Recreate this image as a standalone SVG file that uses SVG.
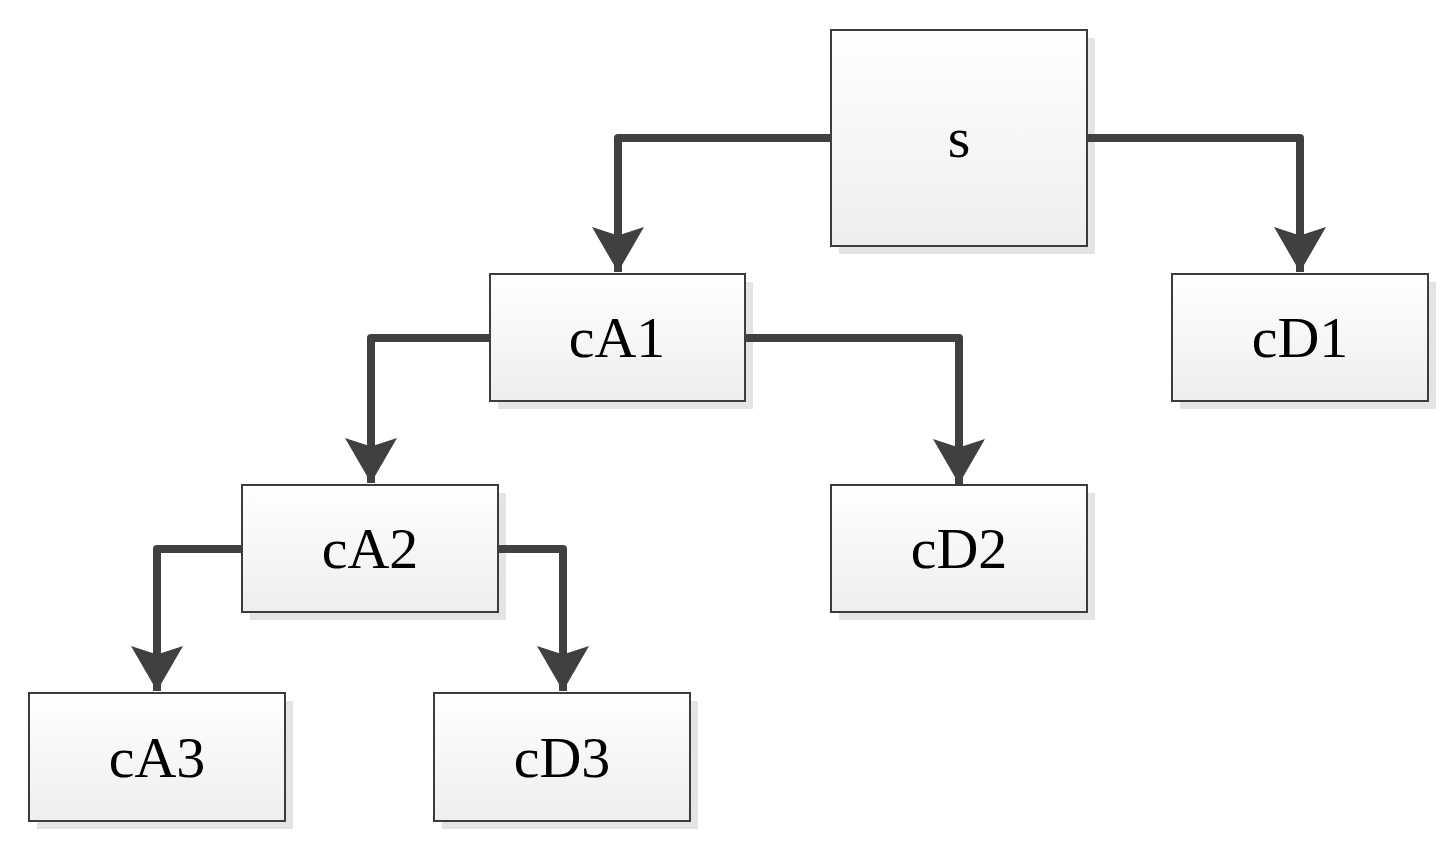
<svg xmlns="http://www.w3.org/2000/svg" width="1456" height="853" viewBox="0 0 1456 853">
<style>
.box{fill:url(#g);stroke:#3c3c3c;stroke-width:2}
.sh{fill:#e4e4e4}
.t{font-family:"Liberation Serif",serif;font-size:58px;fill:#000;text-anchor:middle}
.c{fill:none;stroke:#404040;stroke-width:8;stroke-linejoin:round}
</style>
<defs>
<linearGradient id="g" x1="0" y1="0" x2="0" y2="1"><stop offset="0" stop-color="#ffffff"/><stop offset="1" stop-color="#eeeeee"/></linearGradient>
<marker id="a" markerUnits="userSpaceOnUse" markerWidth="60" markerHeight="52" refX="56" refY="30" orient="auto" viewBox="0 0 60 60"><path d="M4,0 L56,30 L4,60 L14,30 Z" fill="#404040"/></marker>
</defs>
<g id="s"><rect class="sh" x="839" y="38" width="256" height="216"/><rect class="box" x="831" y="30" width="256" height="216"/><text class="t" x="959" y="157">s</text></g>
<g id="cA1"><rect class="sh" x="498" y="282" width="255" height="127"/><rect class="box" x="490" y="274" width="255" height="127"/><text class="t" x="617" y="357">cA1</text></g>
<g id="cD1"><rect class="sh" x="1180" y="282" width="256" height="127"/><rect class="box" x="1172" y="274" width="256" height="127"/><text class="t" x="1300" y="357">cD1</text></g>
<g id="cA2"><rect class="sh" x="250" y="493" width="256" height="127"/><rect class="box" x="242" y="485" width="256" height="127"/><text class="t" x="370" y="568">cA2</text></g>
<g id="cD2"><rect class="sh" x="839" y="493" width="256" height="127"/><rect class="box" x="831" y="485" width="256" height="127"/><text class="t" x="959" y="568">cD2</text></g>
<g id="cA3"><rect class="sh" x="37" y="701" width="256" height="128"/><rect class="box" x="29" y="693" width="256" height="128"/><text class="t" x="157" y="777">cA3</text></g>
<g id="cD3"><rect class="sh" x="442" y="701" width="256" height="128"/><rect class="box" x="434" y="693" width="256" height="128"/><text class="t" x="562" y="777">cD3</text></g>
<g id="connectors">
<path class="c" marker-end="url(#a)" d="M831,138 H618 V272"/>
<path class="c" marker-end="url(#a)" d="M1087,138 H1300 V272"/>
<path class="c" marker-end="url(#a)" d="M490,338 H371 V483"/>
<path class="c" marker-end="url(#a)" d="M745,338 H959 V484"/>
<path class="c" marker-end="url(#a)" d="M242,549 H157 V691"/>
<path class="c" marker-end="url(#a)" d="M498,549 H563 V691"/>
</g>
</svg>
